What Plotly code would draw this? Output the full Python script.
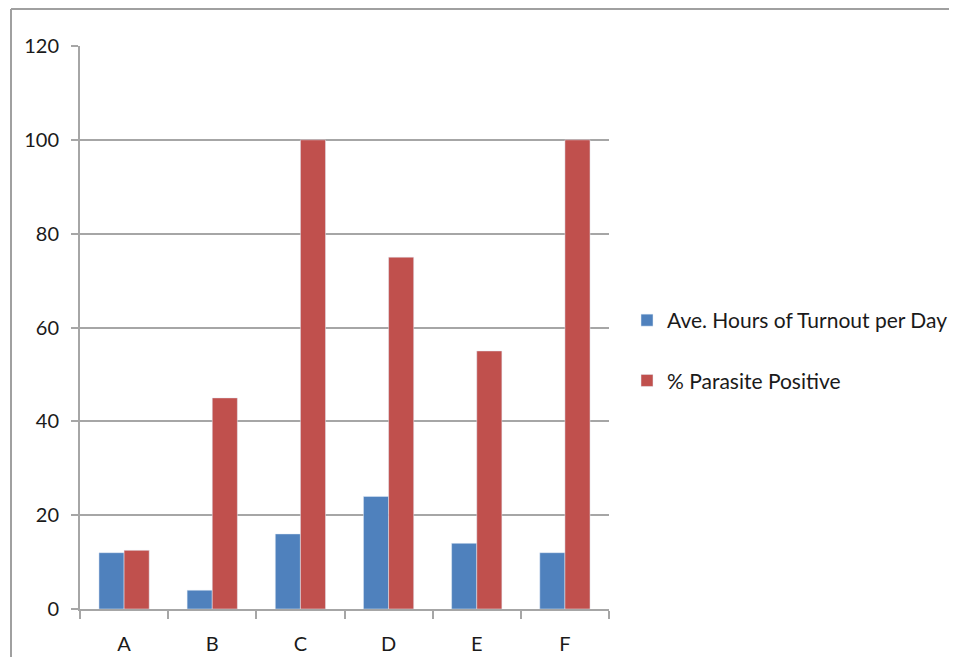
import plotly.graph_objects as go

categories = ["A", "B", "C", "D", "E", "F"]
turnout_hours = [12, 4, 16, 24, 14, 12]
parasite_pct = [12.5, 45, 100, 75, 55, 100]
y_ticks = [0, 20, 40, 60, 80, 100, 120]

FONT = "Lato"
GRID = "#a6a6a6"
BORDER = "#a0a0a0"
OFF = 8  # page body margin offset

fig = go.Figure()
fig.add_trace(go.Bar(x=categories, y=turnout_hours, name="Ave. Hours of Turnout per Day",
                     marker_color="#4f81bd", legendgroup="a"))
fig.add_trace(go.Bar(x=categories, y=parasite_pct, name="% Parasite Positive",
                     marker_color="#c0504d", legendgroup="b"))

W, H = 957 - 2 * OFF, 665 - 2 * OFF
L, T = 80 - OFF, 46 - OFF
R, B = W - (609 - OFF), H - (609 - OFF)
pw, ph = W - L - R, H - T - B

def px(x):
    return (x - OFF - L) / pw

def py(y):
    return (H - B - (y - OFF)) / ph

def cx(x):
    return (x - OFF) / W

def cy(y):
    return 1 - (y - OFF) / H

fig.update_layout(
    width=W, height=H,
    margin=dict(l=L, r=R, t=T, b=B, autoexpand=False),
    paper_bgcolor="white", plot_bgcolor="white",
    bargap=0.43, bargroupgap=0,
    font=dict(family=FONT, size=20, color="#1a1a1a"),
    showlegend=True,
    legend=dict(xref="container", yref="container", x=cx(627), y=cy(300),
                xanchor="left", yanchor="top",
                font=dict(family=FONT, size=21, color="#1a1a1a"),
                tracegroupgap=30, itemwidth=30, bgcolor="rgba(0,0,0,0)"),
    xaxis=dict(showline=True, linecolor=GRID, linewidth=2, automargin=False,
               ticks="outside", tickson="boundaries", ticklen=8, tickwidth=2, tickcolor=GRID,
               ticklabelstandoff=16, showgrid=False, tickfont=dict(size=20)),
    yaxis=dict(range=[0, 120], tickvals=y_ticks, showline=True, linecolor=GRID, linewidth=2,
               automargin=False,
               ticks="outside", ticklen=7, tickwidth=2, tickcolor=GRID,
               showgrid=True, gridcolor=GRID, gridwidth=2, zeroline=False,
               ticklabelstandoff=8, tickfont=dict(size=20)),
    shapes=[
        dict(type="line", xref="paper", yref="paper",
             x0=px(11), x1=3, y0=py(9), y1=py(9),
             line=dict(color=BORDER, width=2), layer="below"),
        dict(type="line", xref="paper", yref="paper",
             x0=px(11), x1=px(11), y0=-2, y1=py(9),
             line=dict(color=BORDER, width=2), layer="below"),
    ],
)

fig.write_html("out.html")
